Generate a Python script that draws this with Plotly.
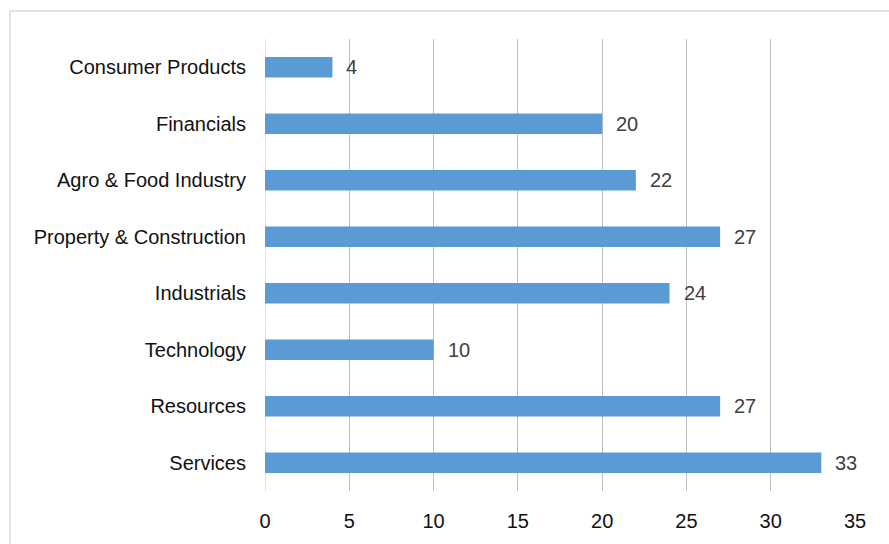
import plotly.graph_objects as go

categories = ["Services", "Resources", "Technology", "Industrials",
              "Property & Construction", "Agro & Food Industry", "Financials",
              "Consumer Products"]
values = [33, 27, 10, 24, 27, 22, 20, 4]
x_ticks = [0, 5, 10, 15, 20, 25, 30, 35]

W, H = 889, 544
ml, mr, mt, mb = 265, 34, 39, 53
pw, ph = W - ml - mr, H - mt - mb

fig = go.Figure(go.Bar(
    y=categories, x=values, orientation="h",
    marker=dict(color="#5B9BD5", line=dict(width=0)),
    hoverinfo="skip",
))

for c, v in zip(categories, values):
    fig.add_annotation(x=v, y=c, text=str(v), showarrow=False,
                       xanchor="left", yanchor="middle", xshift=12,
                       font=dict(size=20, color="#404040"))

# outer chart frame
fig.add_shape(type="rect", xref="paper", yref="paper",
              x0=(10 - ml) / pw, x1=(W + 20 - ml) / pw,
              y0=(H - mb - (H + 20)) / ph, y1=(H - mb - 11) / ph,
              line=dict(color="#D9D9D9", width=1.5), fillcolor="rgba(0,0,0,0)",
              layer="below")

fig.update_layout(
    width=W, height=H,
    margin=dict(l=ml, r=mr, t=mt, b=mb, pad=0),
    paper_bgcolor="white", plot_bgcolor="white",
    font=dict(family="Liberation Sans, Arial, sans-serif", size=20, color="#111111"),
    bargap=0.64,
    showlegend=False,
    xaxis=dict(range=[0, 35], tickvals=x_ticks, showgrid=True,
               gridcolor="#BFBFBF", gridwidth=1, zeroline=False,
               showline=False, ticks="", ticklabelstandoff=16,
               fixedrange=True),
    yaxis=dict(categoryorder="array", categoryarray=categories,
               showgrid=False, zeroline=False, showline=False,
               ticks="", ticklabelstandoff=18, fixedrange=True),
)
fig.add_shape(type="line", xref="x", yref="paper", x0=0, x1=0, y0=0, y1=1,
              line=dict(color="#BFBFBF", width=1), layer="below")

fig.write_html("out.html")
